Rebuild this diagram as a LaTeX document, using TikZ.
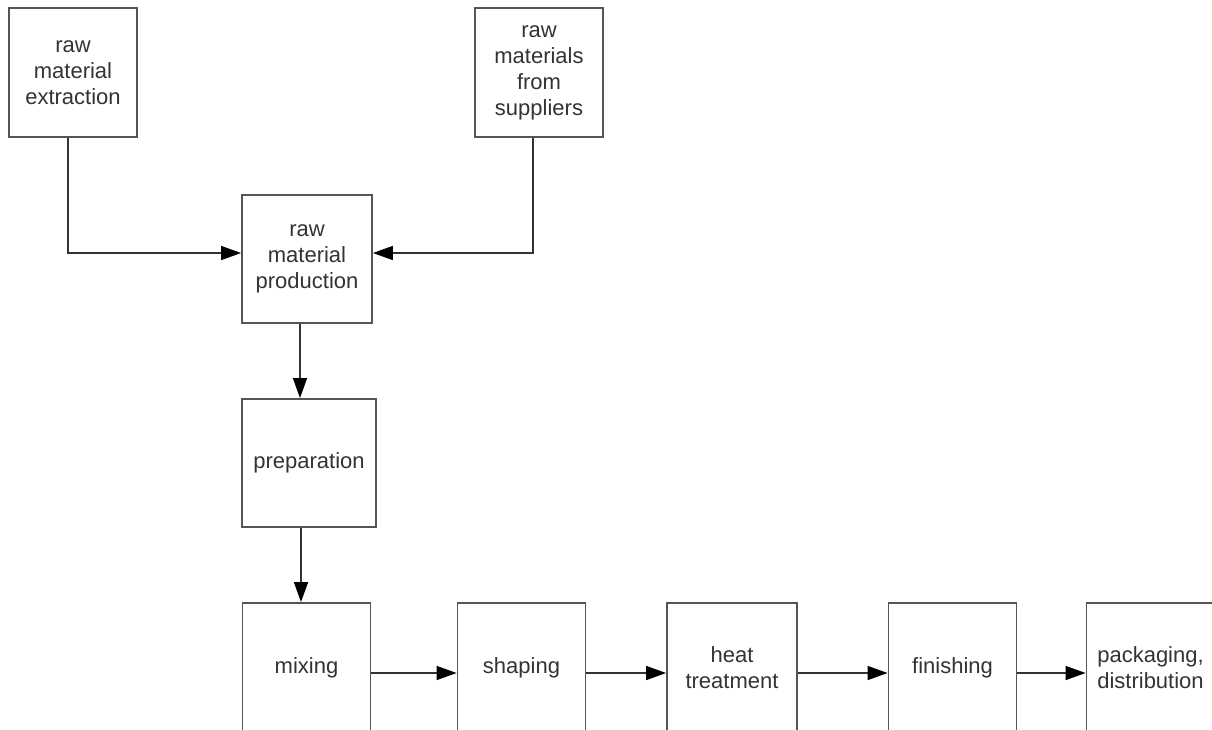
\documentclass[tikz,border=0pt]{standalone}
\usepackage{fontspec}
\setmainfont{Liberation Sans}
\usetikzlibrary{arrows.meta}
\begin{document}
\begin{tikzpicture}[x=1pt,y=-1pt,
  stepbox/.style={draw=boxline, line width=1.8pt, fill=white, align=center,
    text=textgray, font=\fontsize{22}{26}\selectfont,
    minimum width=128pt, minimum height=129pt, inner sep=0pt},
  flow/.style={draw=black!80, line width=1.4pt,
    -{Triangle[length=20pt,width=14pt,color=black,fill=black]}}]
\definecolor{boxline}{HTML}{555555}
\definecolor{textgray}{HTML}{333333}
\useasboundingbox (0,0) rectangle (1212,729);
\clip (0,0) rectangle (1212,729);
\fill[white] (0,0) rectangle (1212,729);

% source boxes
\node[stepbox] (ext) at (73,72.5) {raw\\material\\extraction};
\node[stepbox] (sup) at (539,72.5) {raw\\materials\\from\\suppliers};

% main chain
\node[stepbox, minimum width=130pt, minimum height=128pt] (prod) at (307,259) {raw\\material\\production};
\node[stepbox, minimum width=134pt, minimum height=128pt] (prep) at (309,463) {preparation};
\node[stepbox] (mix)  at (306.5,667.5) {mixing};
\node[stepbox] (shap) at (521.5,667.5) {shaping};
\node[stepbox, minimum width=130pt] (heat) at (732,667.5) {heat\\treatment};
\node[stepbox] (fin)  at (952.5,667.5) {finishing};
\node[stepbox] (pack) at (1150.5,667.5) {packaging,\\distribution};

% connectors
\draw[flow] ([xshift=-5pt]ext.south) |- ([yshift=6pt]prod.west);
\draw[flow] ([xshift=-6pt]sup.south) |- ([yshift=6pt]prod.east);
\draw[flow] ([xshift=-7pt]prod.south) -- ([xshift=-7pt]prod.south |- prep.north);
\draw[flow] ([xshift=-8pt]prep.south) -- ([xshift=-8pt]prep.south |- mix.north);
\draw[flow] ([yshift=-5.5pt]mix.east)  -- ([yshift=-5.5pt]shap.west);
\draw[flow] ([yshift=-5.5pt]shap.east) -- ([yshift=-5.5pt]heat.west);
\draw[flow] ([yshift=-5.5pt]heat.east) -- ([yshift=-5.5pt]fin.west);
\draw[flow] ([yshift=-5.5pt]fin.east)  -- ([yshift=-5.5pt]pack.west);
\end{tikzpicture}
\end{document}
